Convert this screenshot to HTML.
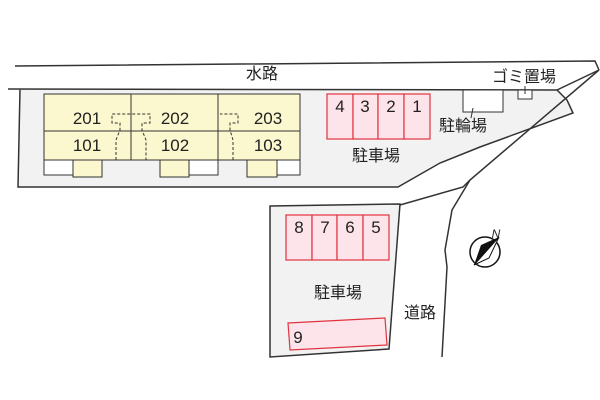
<!DOCTYPE html>
<html><head><meta charset="utf-8"><style>
html,body{margin:0;padding:0;background:#fff;}
svg{display:block;}
text{font-family:"Liberation Sans","Noto Sans CJK JP",sans-serif;fill:#222;}
</style></head><body>
<svg width="600" height="400" viewBox="0 0 600 400" xmlns="http://www.w3.org/2000/svg">
<path d="M15,66 L595,61 L599,70" fill="none" stroke="#333" stroke-width="1.5"/>
<path d="M8,89 L557,90 L567,100 L573,113 L480,147 L440,163 L398,187 L18,187 L20,89" fill="#f2f2f2" stroke="#333" stroke-width="1.5"/>
<path d="M557,90 L599,70" fill="none" stroke="#333" stroke-width="1.5"/>
<path d="M599,70 L470,180 L452,210 L445,250 L447,267 L442,357" fill="none" stroke="#333" stroke-width="1.5"/>
<path d="M400,205 L463,187 L470,180" fill="none" stroke="#333" stroke-width="1.5"/>
<path d="M270,206 L400,204 L389,349 L270,357 Z" fill="#f2f2f2" stroke="#333" stroke-width="1.5"/>
<rect x="44" y="94" width="256" height="66" fill="#fbf8cf" stroke="#333" stroke-width="1"/>
<line x1="44" y1="131" x2="300" y2="131" stroke="#333"/>
<line x1="131" y1="94" x2="131" y2="160" stroke="#333"/>
<line x1="218" y1="94" x2="218" y2="160" stroke="#333"/>
<rect x="44" y="160" width="29" height="15" fill="#fff" stroke="#333"/>
<rect x="73" y="160" width="29" height="17" fill="#fbf8cf" stroke="#333"/>
<rect x="160" y="160" width="29" height="17" fill="#fbf8cf" stroke="#333"/>
<rect x="189" y="160" width="29" height="15" fill="#fff" stroke="#333"/>
<rect x="247" y="160" width="30" height="17" fill="#fbf8cf" stroke="#333"/>
<rect x="277" y="160" width="23" height="15" fill="#fff" stroke="#333"/>
<g fill="none" stroke="#333" stroke-dasharray="3,2" stroke-width="1">
<path d="M116,160 L116,140 L120,130 L120,123 L112,123 L112,114 L150,114 L150,123 L142,123 L142,130 L146,140 L146,160"/>
<path d="M233,160 L233,140 L230,130 L230,123 L238,123 L238,114 L220,114"/>
</g>
<g font-size="17" text-anchor="middle">
<text x="87" y="124">201</text>
<text x="87" y="151">101</text>
<text x="175" y="124">202</text>
<text x="175" y="151">102</text>
<text x="268" y="124">203</text>
<text x="268" y="151">103</text>
</g>
<g fill="#fde3ea" stroke="#e0333f" stroke-width="1.2">
<rect x="327" y="94" width="26" height="45"/><rect x="353" y="94" width="25" height="45"/>
<rect x="378" y="94" width="26" height="45"/><rect x="404" y="94" width="26" height="45"/>
<rect x="286" y="215" width="26" height="45"/><rect x="312" y="215" width="25" height="45"/>
<rect x="337" y="215" width="26" height="45"/><rect x="363" y="215" width="26" height="45"/>
<path d="M288,323 L385,318 L387,345 L290,350 Z"/>
</g>
<g font-size="17" text-anchor="middle">
<text x="340" y="112">4</text><text x="365" y="112">3</text><text x="391" y="112">2</text><text x="417" y="112">1</text>
<text x="299" y="233">8</text><text x="325" y="233">7</text><text x="350" y="233">6</text><text x="376" y="233">5</text>
<text x="298" y="343">9</text>
</g>
<rect x="463" y="90" width="40" height="22" fill="#fff" stroke="#333"/>
<line x1="473" y1="108" x2="471" y2="118" stroke="#333"/>
<rect x="518" y="90" width="14" height="9" fill="#fff" stroke="#333"/>
<line x1="525" y1="86" x2="525" y2="94" stroke="#333"/>
<g font-size="16">
<text x="262" y="79" text-anchor="middle">水路</text>
<text x="524" y="82" text-anchor="middle">ゴミ置場</text>
<text x="463" y="131" text-anchor="middle">駐輪場</text>
<text x="376" y="161" text-anchor="middle">駐車場</text>
<text x="338" y="298" text-anchor="middle">駐車場</text>
<text x="420" y="318" text-anchor="middle">道路</text>
</g>
<circle cx="485" cy="252" r="15" fill="#fff" stroke="#111" stroke-width="1.5"/>
<path d="M499,237 L474,265 L481,245 Z" fill="#111"/>
<path d="M499,237 L474,265 L489,258 Z" fill="#fff" stroke="#111" stroke-width="1"/>
<text x="496" y="238" font-size="12" font-style="italic" text-anchor="middle">N</text>
</svg>
</body></html>
